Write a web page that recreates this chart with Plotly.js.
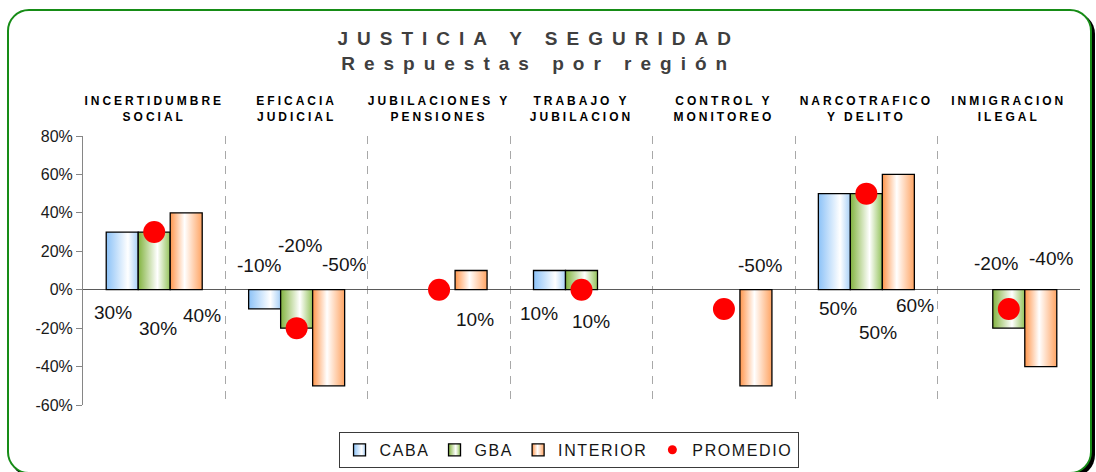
<!DOCTYPE html>
<html>
<head>
<meta charset="utf-8">
<script src="https://cdn.plot.ly/plotly-3.0.1.min.js"></script>
<style>
html,body{margin:0;padding:0;background:#fff;}
#frame{position:absolute;left:7px;top:9px;width:1081px;height:461px;border:2px solid #168c16;border-radius:22px;box-shadow:3px 3px 0 #000;background:#fff;}
#chart{position:absolute;left:0;top:0;width:1096px;height:472px;}
#chart .gtitle{letter-spacing:9px;}
#chart .xtick text{letter-spacing:3px;}
.legendtext{letter-spacing:1.6px;}
</style>
</head>
<body>
<div id="frame"></div>
<div id="chart"></div>
<script>
// ---- data ----
const categories = ['INCERTIDUMBRE SOCIAL','EFICACIA JUDICIAL','JUBILACIONES Y PENSIONES','TRABAJO Y JUBILACION','CONTROL Y MONITOREO','NARCOTRAFICO Y DELITO','INMIGRACION ILEGAL'];
const tickLabels = ['INCERTIDUMBRE<br>SOCIAL','EFICACIA<br>JUDICIAL','JUBILACIONES Y<br>PENSIONES','TRABAJO Y<br>JUBILACION','CONTROL Y<br>MONITOREO','NARCOTRAFICO<br>Y DELITO','INMIGRACION<br>ILEGAL'];
const seriesNames = ['CABA','GBA','INTERIOR'];
const caba     = [30, -10, null, 10, null, 50, null];
const gba      = [30, -20, null, 10, null, 50, -20];
const interior = [40, -50, 10, null, -50, 60, -40];
const promedio = [30, -20, 0, 0, -10, 50, -10];
const yTicks = [-60, -40, -20, 0, 20, 40, 60, 80];
const yTickLabels = yTicks.map(v => v + '%');

// ---- data-label placement (px from category centre / zero line) ----
const cabaLabelDx = [-41, -38, null, -43, null, -28, null];
const cabaLabelDy = [-23, 24, null, -24, null, -19, null];
const gbaLabelDx  = [4, 3, null, 9, null, 12, -13];
const gbaLabelDy  = [-39, 44, null, -32, null, -43, 26];
const intLabelDx  = [48, 47, 36, null, 36, 49, 42];
const intLabelDy  = [-26, 25, -30, null, 24, -16, 31];

// ---- styles ----
const baseColors = ['#bcdcfa', '#b5d58a', '#ffc49a'];
const gradStops = [
  [[0,'#8cc2f7'],[0.68,'#ffffff'],[1,'#a8d0f6']],
  [[0,'#82b33f'],[0.6,'#ffffff'],[1,'#93c25a']],
  [[0,'#ff964c'],[0.45,'#ffffff'],[1,'#ffa463']]
];

const seriesValues = [caba, gba, interior];
const labelDx = [cabaLabelDx, gbaLabelDx, intLabelDx];
const labelDy = [cabaLabelDy, gbaLabelDy, intLabelDy];

const traces = seriesValues.map((vals, k) => ({
  type: 'bar', name: seriesNames[k], x: categories, y: vals,
  marker: {color: baseColors[k], line: {color: '#000', width: 1.3}},
  hoverinfo: 'skip'
}));
traces.push({
  type: 'scatter', mode: 'markers', name: 'PROMEDIO', x: categories, y: promedio,
  marker: {color: '#ff0000', size: 22}, showlegend: false, cliponaxis: false, hoverinfo: 'skip'
});
traces.push({
  type: 'scatter', mode: 'markers', name: 'PROMEDIO', x: [null], y: [null],
  marker: {color: '#ff0000', size: 9}, showlegend: true
});

const annotations = [];
seriesValues.forEach((vals, k) => {
  vals.forEach((v, i) => {
    if (v === null || labelDx[k][i] === null) return;
    annotations.push({
      x: categories[i], y: 0, xref: 'x', yref: 'y', text: v + '%', showarrow: false,
      xshift: labelDx[k][i], yshift: labelDy[k][i],
      font: {size: 19, color: '#151515'}
    });
  });
});

const layout = {
  width: 1096, height: 472,
  margin: {l: 83, r: 16, t: 136, b: 67, autoexpand: false},
  paper_bgcolor: 'rgba(0,0,0,0)', plot_bgcolor: 'rgba(0,0,0,0)',
  font: {family: 'Liberation Sans, Arial, sans-serif', color: '#151515'},
  title: {
    text: 'JUSTICIA Y SEGURIDAD<br>Respuestas por región',
    font: {size: 19, weight: 'bold', color: '#3f3f3f'},
    xref: 'container', x: 0.4915, xanchor: 'center',
    yref: 'container', y: 0.905, yanchor: 'top'
  },
  barmode: 'group', bargap: 0.326, bargroupgap: 0,
  showlegend: true,
  legend: {
    orientation: 'h', x: 0.487, xanchor: 'center', y: -0.1, yanchor: 'top',
    bordercolor: '#3a3a3a', borderwidth: 1, bgcolor: '#ffffff',
    font: {size: 16, color: '#151515'}, itemclick: false, itemdoubleclick: false
  },
  xaxis: {
    type: 'category', side: 'top', tickmode: 'array', tickvals: categories, ticktext: tickLabels,
    tickson: 'boundaries', ticks: '', showgrid: true, gridcolor: '#a8a8a8', griddash: '8px,7px', gridwidth: 1,
    showline: false, zeroline: false, range: [-0.5, 6.5], fixedrange: true,
    tickfont: {size: 12, weight: 'bold', color: '#000'}, ticklabelstandoff: 12
  },
  yaxis: {
    range: [-60, 80], tickmode: 'array', tickvals: yTicks, ticktext: yTickLabels,
    showline: true, linecolor: '#868686', linewidth: 1, ticks: 'outside', ticklen: 6, tickcolor: '#868686',
    showgrid: false, zeroline: true, zerolinecolor: '#5a5a5a', zerolinewidth: 1, fixedrange: true,
    tickfont: {size: 16, color: '#1a1a1a'}
  },
  annotations: annotations
};

Plotly.newPlot('chart', traces, layout, {displayModeBar: false, staticPlot: true}).then(gd => {
  const NS = 'http://www.w3.org/2000/svg';
  const svg = gd.querySelector('svg.main-svg');
  const defs = document.createElementNS(NS, 'defs');
  svg.insertBefore(defs, svg.firstChild);
  gradStops.forEach((stops, k) => {
    const lg = document.createElementNS(NS, 'linearGradient');
    lg.setAttribute('id', 'barGrad' + k);
    lg.setAttribute('x1', '0'); lg.setAttribute('y1', '0');
    lg.setAttribute('x2', '1'); lg.setAttribute('y2', '0');
    stops.forEach(([off, col]) => {
      const s = document.createElementNS(NS, 'stop');
      s.setAttribute('offset', off);
      s.setAttribute('stop-color', col);
      lg.appendChild(s);
    });
    defs.appendChild(lg);
  });
  gd.querySelectorAll('.barlayer .trace').forEach((t, k) => {
    t.querySelectorAll('path').forEach(p => { p.style.fill = 'url(#barGrad' + k + ')'; });
  });
  gd.querySelectorAll('.legend .traces').forEach((t, k) => {
    if (k < 3) t.querySelectorAll('.legendpoints path').forEach(p => { p.style.fill = 'url(#barGrad' + k + ')'; });
  });
});
</script>
</body>
</html>
